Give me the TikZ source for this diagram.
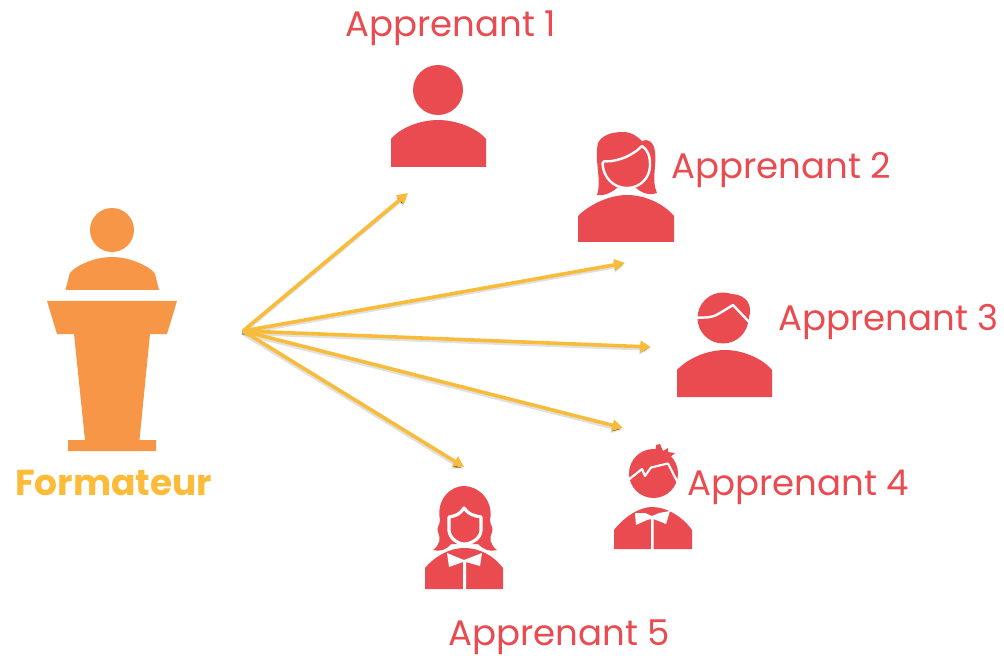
\documentclass[tikz,border=0pt]{standalone}
\usepackage{fontspec}
\setmainfont{Poppins}
\usetikzlibrary{arrows.meta}
\definecolor{red1}{HTML}{E94B50}
\definecolor{or1}{HTML}{F79646}
\definecolor{ye1}{HTML}{F8BC3A}
\definecolor{ye2}{HTML}{FDBB3A}
\tikzset{
 lab/.style={text=red1,font=\fontsize{26.65pt}{30pt}\selectfont,inner sep=0pt,anchor=base west},
 arr/.style={draw=ye1,line width=2.7pt,-{Triangle[length=8pt,width=8.5pt]},
   preaction={draw=black,draw opacity=.12,line width=3pt,transform canvas={shift={(-0.6pt,-1.4pt)}}}},
 pf/.style={fill=red1,draw=none},
 wl/.style={draw=white,line width=1.8pt,line join=round},
}
\begin{document}
\begin{tikzpicture}[x=0.75pt,y=-0.75pt]
\useasboundingbox (0,0) rectangle (1004,656);
% formateur
\fill[or1] (112,230) circle (22);
\fill[or1] (65.5,290) -- (69.5,274) .. controls (72,268) and (92,257) .. (112,257) .. controls (132,257) and (152,268) .. (155,274) -- (159,290) -- cycle;
\fill[or1] (47,301) -- (177,301) -- (167,334) -- (150,334) -- (139.5,440) -- (156,440) -- (156,451) -- (68,451) -- (68,440) -- (85,440) -- (74,334) -- (57,334) -- cycle;
\node[inner sep=0pt,anchor=base west,text=ye2,font=\fontsize{27pt}{30pt}\selectfont\bfseries] (fmt) at (15,495) {Formateur};
% person 1
\fill[pf] (438,90) circle (25);
\fill[pf] (391,167) -- (391,139) .. controls (400,128) and (420,120) .. (438,120) .. controls (456,120) and (477,128) .. (486,139) -- (486,167) -- cycle;
% person 2
\fill[pf] (597,195) .. controls (602,180) and (594,160) .. (598,143) .. controls (602,135) and (612,132) .. (623,132) .. controls (632,132) and (638,137) .. (642,141) .. controls (648,138) and (654,142) .. (655,152) .. controls (657,165) and (651,180) .. (657,193) .. controls (652,195) and (644,195) .. (636,188) -- (617,188) .. controls (612,192) and (606,196) .. (597,195) -- cycle;
\filldraw[pf,wl,fill=red1] (602.5,163) .. controls (603,160) and (604,162) .. (612,161) .. controls (625,159) and (635,153) .. (642,146) .. controls (648,150) and (650,156) .. (650,165) .. controls (650,178) and (640,188) .. (627,188) .. controls (613,188) and (603,177) .. (602.5,163) -- cycle;
\fill[pf] (578,242) -- (578,216) .. controls (590,204) and (610,195) .. (627,195) .. controls (645,195) and (664,204) .. (674,216) -- (674,242) -- cycle;
% person 3
\fill[pf] (723,318) circle (25.5);
\fill[pf] (730,294) .. controls (742,294) and (751,300) .. (750,313) -- (748,322) -- (735,305) -- cycle;
\fill[pf] (677,397) -- (677,370) .. controls (688,358) and (708,350) .. (725,350) .. controls (742,350) and (762,358) .. (772,370) -- (772,397) -- cycle;
\draw[wl] (695,317.5) .. controls (708,318) and (714,317) .. (720,313) -- (733,305) -- (750,323);
% person 4
\fill[pf] (653.5,473.5) circle (24.5);
\fill[pf] (656,445) -- (660,444) -- (663,451) -- (668,448) -- (668,452) -- (675,453) -- (667,460) -- (655,455) -- cycle;
\draw[wl,line width=1.6pt] (627,481) -- (642,469) -- (645,476) -- (651,467.5) -- (668,463.5) -- (678,483);
\fill[pf] (614,549) -- (614,530) .. controls (625,516) and (640,507) .. (652,507) .. controls (666,507) and (682,516) .. (692,530) -- (692,549) -- cycle;
\fill[white] (635,513) -- (645,513) -- (652,516) -- (659,513) -- (670,511) -- (666,524) -- (656,520) -- (653.5,519) -- (653.5,550) -- (651,550) -- (651,519) -- (647,520) -- (636,525) -- cycle;
% person 5
\fill[pf] (433,550) .. controls (440,545) and (441,538) .. (438,532) .. controls (436,528) and (440,525) .. (440,520) .. controls (436,500) and (450,486) .. (464,486) .. controls (478,486) and (494,500) .. (490,520) .. controls (490,525) and (494,528) .. (492,532) .. controls (489,538) and (490,545) .. (497,550) .. controls (490,552) and (484,550) .. (478,544) -- (451,544) .. controls (446,550) and (440,552) .. (433,550) -- cycle;
\filldraw[pf,wl,fill=red1,line width=2.4pt] (464,508) .. controls (460,514) and (456,516) .. (449,517) -- (449,530) .. controls (449,538) and (458,544) .. (464,544) .. controls (472,544) and (481,538) .. (481,530) -- (481,517) .. controls (474,516) and (468,514) .. (464,508) -- cycle;
\draw[white,line width=1.5pt] (425,568) .. controls (435,556) and (450,548) .. (464,548) .. controls (480,548) and (494,556) .. (503,568);
\fill[pf] (425,589) -- (425,568) .. controls (435,556) and (450,548) .. (464,548) .. controls (480,548) and (494,556) .. (503,568) -- (503,589) -- cycle;
\fill[white] (447,553) -- (464,560) -- (482,553) -- (480,566) -- (466,562) -- (466,589) -- (463,589) -- (463,562) -- (449,567) -- cycle;
% labels
\node[lab] (a1) at (345,37) {Apprenant 1};
\node[lab] (a2) at (671,179) {Apprenant 2};
\node[lab] (a3) at (778,330) {Apprenant 3};
\node[lab] (a4) at (687,495) {Apprenant 4};
\node[lab] (a5) at (448,645) {Apprenant 5};
% arrows
\coordinate (o) at (243,331);
\coordinate (e1) at (408,193);
\coordinate (e2) at (625,263);
\coordinate (e3) at (651,347);
\coordinate (e4) at (623,428);
\coordinate (e5) at (464,467);
\foreach \e in {e1,e2,e3,e4,e5} \draw[arr] (o) -- (\e);
\end{tikzpicture}
\end{document}
